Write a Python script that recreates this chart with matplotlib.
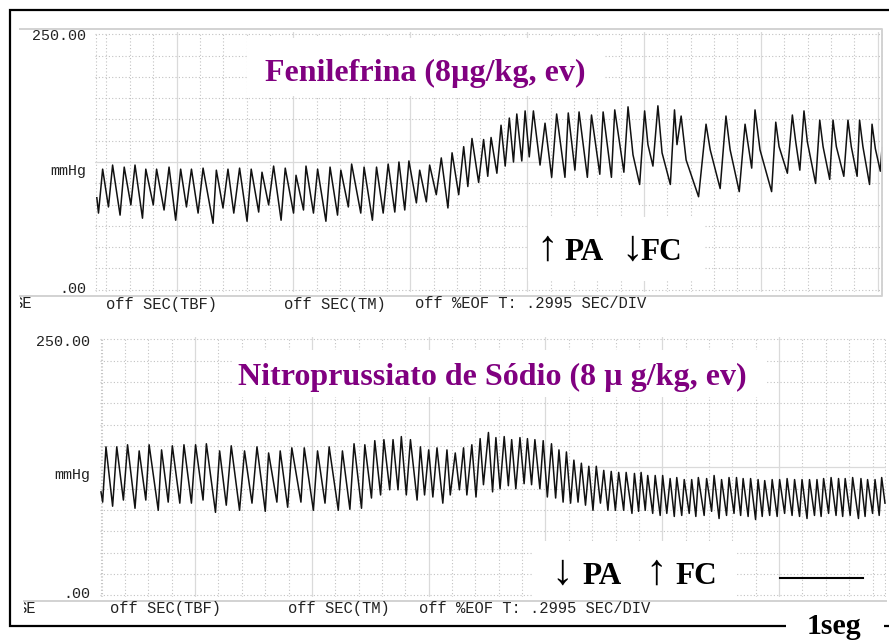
import matplotlib.pyplot as plt
from matplotlib.patches import Rectangle
import numpy as np

W, H = 889, 643  # figura em pixels

fen_t = [0.01, 0.03, 0.08, 0.15, 0.20, 0.29, 0.34, 0.42, 0.47, 0.56, 0.60, 0.69, 0.73, 0.82, 0.88, 0.96,
         1.02, 1.09, 1.15, 1.23, 1.29, 1.41, 1.45, 1.53, 1.59, 1.66, 1.73, 1.82, 1.87, 1.96,
         2.00, 2.08, 2.14, 2.23, 2.28, 2.38, 2.41, 2.50, 2.53, 2.62, 2.67, 2.77, 2.82, 2.91, 2.95,
         3.04, 3.08, 3.19, 3.23, 3.33, 3.38, 3.46, 3.52, 3.60, 3.65, 3.72, 3.77, 3.86, 3.90, 3.98,
         4.02, 4.10, 4.16, 4.24, 4.29, 4.37, 4.43, 4.48, 4.53, 4.61, 4.67, 4.72, 4.76, 4.83, 4.88, 4.93, 4.98,
         5.03, 5.07, 5.13, 5.17, 5.22, 5.27, 5.35, 5.41, 5.49, 5.55, 5.65, 5.69, 5.77, 5.82, 5.92, 5.97,
         6.07, 6.11, 6.21, 6.25, 6.36, 6.41, 6.47, 6.55, 6.61, 6.65, 6.71, 6.77, 6.82, 6.92, 6.97,
         7.00, 7.05, 7.11, 7.26, 7.35, 7.40, 7.52, 7.59, 7.64, 7.75, 7.82, 7.90, 7.94, 8.00,
         8.14, 8.19, 8.23, 8.33, 8.39, 8.43, 8.48, 8.53, 8.57, 8.67, 8.72, 8.76, 8.84, 8.88, 8.92,
         9.01, 9.06, 9.10, 9.17, 9.20, 9.24, 9.32, 9.35, 9.39, 9.45, 9.47]
fen_pa = [90, 75, 118, 81, 122, 73, 120, 83, 122, 70, 118, 83, 118, 78, 120, 68,
          118, 81, 118, 75, 119, 65, 117, 80, 118, 75, 119, 67, 118, 76,
          115, 83, 121, 68, 119, 75, 112, 78, 121, 75, 118, 67, 120, 73, 117,
          81, 123, 75, 120, 68, 120, 75, 123, 76, 125, 78, 126, 85, 117, 86,
          122, 93, 129, 80, 134, 93, 140, 101, 148, 105, 147, 111, 149, 114, 161, 121, 168,
          125, 172, 126, 175, 130, 175, 122, 163, 110, 172, 110, 173, 117, 174, 110, 171,
          113, 174, 110, 176, 115, 179, 132, 103, 175, 142, 121, 180, 134, 103, 176,
          142, 170, 127, 91, 162, 137, 99, 170, 137, 96, 162, 119, 176, 137,
          96, 164, 140, 114, 171, 145, 117, 175, 145, 104, 166, 140, 108, 166, 140,
          111, 166, 140, 111, 166, 140, 103, 162, 138, 116, 139]

nps_t = [0.00, 0.02, 0.06, 0.14, 0.19, 0.27, 0.32, 0.41, 0.46, 0.54, 0.58, 0.69, 0.73, 0.81, 0.86, 0.95,
         1.00, 1.09, 1.14, 1.23, 1.27, 1.38, 1.43, 1.51, 1.57, 1.67, 1.73, 1.82, 1.88, 1.98,
         2.02, 2.12, 2.16, 2.25, 2.30, 2.41, 2.45, 2.56, 2.61, 2.70, 2.75, 2.86, 2.91, 3.00,
         3.05, 3.14, 3.18, 3.26, 3.30, 3.37, 3.41, 3.48, 3.52, 3.58, 3.62, 3.68, 3.73, 3.81, 3.85, 3.90, 3.95,
         4.00, 4.05, 4.12, 4.17, 4.21, 4.27, 4.32, 4.37, 4.41, 4.47, 4.52, 4.57, 4.61, 4.67, 4.72, 4.76,
         4.81, 4.86, 4.91, 4.95,
         5.00, 5.05, 5.10, 5.14, 5.19, 5.23, 5.29, 5.33, 5.38, 5.43, 5.48, 5.52, 5.57, 5.61, 5.66, 5.70,
         5.75, 5.79, 5.84, 5.88, 5.93, 5.97,
         6.02, 6.06, 6.11, 6.15, 6.20, 6.24, 6.30, 6.33, 6.40, 6.43, 6.48, 6.51, 6.56, 6.59, 6.65, 6.68,
         6.74, 6.77, 6.82, 6.86, 6.91, 6.94,
         7.00, 7.03, 7.09, 7.12, 7.17, 7.20, 7.27, 7.30, 7.36, 7.39, 7.45, 7.48, 7.54, 7.57, 7.63, 7.66,
         7.71, 7.74, 7.80, 7.83, 7.89, 7.92, 7.97,
         8.00, 8.06, 8.09, 8.15, 8.18, 8.24, 8.27, 8.33, 8.36, 8.42, 8.45, 8.51, 8.54, 8.60, 8.63, 8.68,
         8.71, 8.77, 8.80, 8.86, 8.89, 8.94, 8.97,
         9.03, 9.06, 9.13, 9.16, 9.21, 9.24, 9.30, 9.33, 9.38, 9.41, 9.45]
nps_pa = [101, 91, 145, 87, 145, 93, 147, 85, 141, 93, 147, 83, 142, 91, 146, 90,
          147, 90, 147, 93, 148, 81, 141, 88, 146, 83, 141, 90, 145, 82,
          139, 91, 141, 86, 144, 91, 144, 83, 141, 90, 145, 83, 141, 84,
          148, 85, 147, 95, 151, 98, 152, 103, 152, 103, 155, 98, 152, 93, 145, 98, 142,
          96, 144, 90, 142, 98, 139, 103, 144, 98, 147, 96, 153, 108, 159, 101, 154,
          104, 155, 107, 152,
          104, 154, 109, 153, 108, 152, 104, 151, 96, 148, 95, 142, 91, 140, 90, 132,
          91, 129, 88, 126, 83, 126,
          90, 122, 83, 121, 83, 120, 83, 120, 80, 119, 82, 120, 83, 117, 80, 117,
          78, 117, 80, 114, 77, 115,
          78, 113, 80, 113, 77, 115, 78, 114, 82, 117, 75, 113, 78, 115, 80, 115,
          78, 114, 77, 114, 74, 113, 77,
          112, 78, 113, 77, 113, 80, 114, 78, 113, 77, 113, 75, 113, 78, 113, 77,
          114, 80, 115, 78, 114, 77, 114,
          78, 115, 75, 114, 77, 113, 80, 113, 78, 115, 90]

titles = ['Fenilefrina (8\u00b5g/kg, ev)', 'Nitroprussiato de S\u00f3dio (8 \u00b5 g/kg, ev)']
effects = [('\u2191', 'PA', '\u2193', 'FC'), ('\u2193', 'PA', '\u2191', 'FC')]
ylabels = ['250.00', 'mmHg', '.00']
footer = ['off SEC(TBF)', 'off SEC(TM)', 'off %EOF T: .2995 SEC/DIV']

serif = ['Liberation Serif', 'DejaVu Serif']
mono = ['Liberation Mono', 'DejaVu Sans Mono']

fig = plt.figure(figsize=(W / 100, H / 100), dpi=100)


def px_axes(x0, y0, x1, y1, **kw):
    return fig.add_axes([x0 / W, 1 - y1 / H, (x1 - x0) / W, (y1 - y0) / H], **kw)


# (t, pa, caixa da grade em px, fim do tempo, 1a linha menor, indice da 1a maior)
panels = [
    (fen_t, fen_pa, (96, 882, 34.3, 289.7), 9.47, 0.1265, 3),
    (nps_t, nps_pa, (101, 885, 339.3, 595.3), 9.45, 0.008, 4),
]
step = 23.37 / 83  # uma divisao menor, em s

for t, pa, (x0, x1, y0, y1), t_end, g0, gmaj in panels:
    pxs = (x1 - x0) / t_end
    pym = (y1 - y0) / 250
    ax = px_axes(x0 - 1, y0 - 2, x1 + 1, y1 + 2)
    ax.set_xlim(-1 / pxs, t_end + 1 / pxs)
    ax.set_ylim(-2 / pym, 250 + 2 / pym)
    minor = g0 + step * np.arange(0, int((t_end - g0) / step) + 1)
    ax.set_xticks(minor[gmaj::5])
    ax.set_xticks(np.r_[0, minor, t_end], minor=True)
    ax.set_yticks([125])
    ax.set_yticks(np.linspace(0, 250, 13), minor=True)
    ax.grid(which='minor', ls=(0, (1, 2)), color='#c2c2c2', lw=0.8)
    ax.grid(which='major', ls='-', color='#dadada', lw=0.9)
    ax.tick_params(which='both', length=0, labelbottom=False, labelleft=False)
    for s in ax.spines.values():
        s.set_visible(False)
    ax.set_axisbelow(True)
    ax.plot(t, pa, color='#111111', lw=1.1)

# camada de anotacoes em pixels
ov = px_axes(0, 0, W, H, zorder=10)
ov.set_xlim(0, W)
ov.set_ylim(H, 0)
ov.axis('off')
ov.patch.set_visible(False)

gray = '#d2d2d2'
ov.plot([20, 882, 882, 20], [29, 29, 296, 296], color=gray, lw=1.4)
ov.plot([24, 886], [601, 601], color=gray, lw=1.4)
ov.plot([900, 10, 10, 900], [9.5, 9.5, 626, 626], color='black', lw=1.6,
        solid_joinstyle='miter')

# rotulos do registrador
for (xr, ys), yfoot, xfoot in [((86, (36, 171, 289)), 304, (106, 284, 415)),
                               ((90, (341.7, 475.5, 594)), 608.5, (110, 288.3, 419.3))]:
    for lab, y in zip(ylabels, ys):
        ov.text(xr, y, lab, ha='right', va='center', family=mono, size=10.8, color='#222222')
    for lab, x in zip(footer, xfoot):
        ov.text(x, yfoot, lab, ha='left', va='center', family=mono, size=11.2, color='#222222')
    ov.text(xfoot[0] - 74, yfoot, 'SE', ha='right', va='center', family=mono, size=11.2,
            color='#222222')

ov.add_patch(Rectangle((11.5, 297), 8.5, 16, fc='white', ec='none', zorder=4))
ov.add_patch(Rectangle((11.5, 601.5), 12.5, 16, fc='white', ec='none', zorder=4))

# caixas brancas sob os textos
for x, y, w, h in [(247, 38, 358, 58), (233, 350, 532, 47), (528, 217, 177, 64),
                   (533, 541, 204, 59), (786, 610, 98, 33)]:
    ov.add_patch(Rectangle((x, y), w, h, fc='white', ec='none', zorder=2))

for title, (x, y) in zip(titles, [(265, 81), (238, 385)]):
    ov.text(x, y, title, ha='left', va='baseline', family=serif, weight='bold',
            size=23, color='#800080')

for (a1, w1, a2, w2), xs, y in [(effects[0], (536, 564, 621, 640), 260),
                                (effects[1], (551, 582, 645, 675), 584)]:
    ov.text(xs[0], y, a1, ha='left', va='baseline', family=serif, size=31, color='black')
    ov.text(xs[1], y, w1, ha='left', va='baseline', family=serif, weight='bold', size=22.5,
            color='black')
    ov.text(xs[2], y, a2, ha='left', va='baseline', family=serif, size=31, color='black')
    ov.text(xs[3], y, w2, ha='left', va='baseline', family=serif, weight='bold', size=22.5,
            color='black')

# barra de escala
ov.plot([780, 863], [578, 578], color='black', lw=1.5)
ov.text(807, 634.5, '1seg', ha='left', va='baseline', family=serif, weight='bold', size=21.5,
        color='black')

fig.savefig('out.png', dpi=100)
